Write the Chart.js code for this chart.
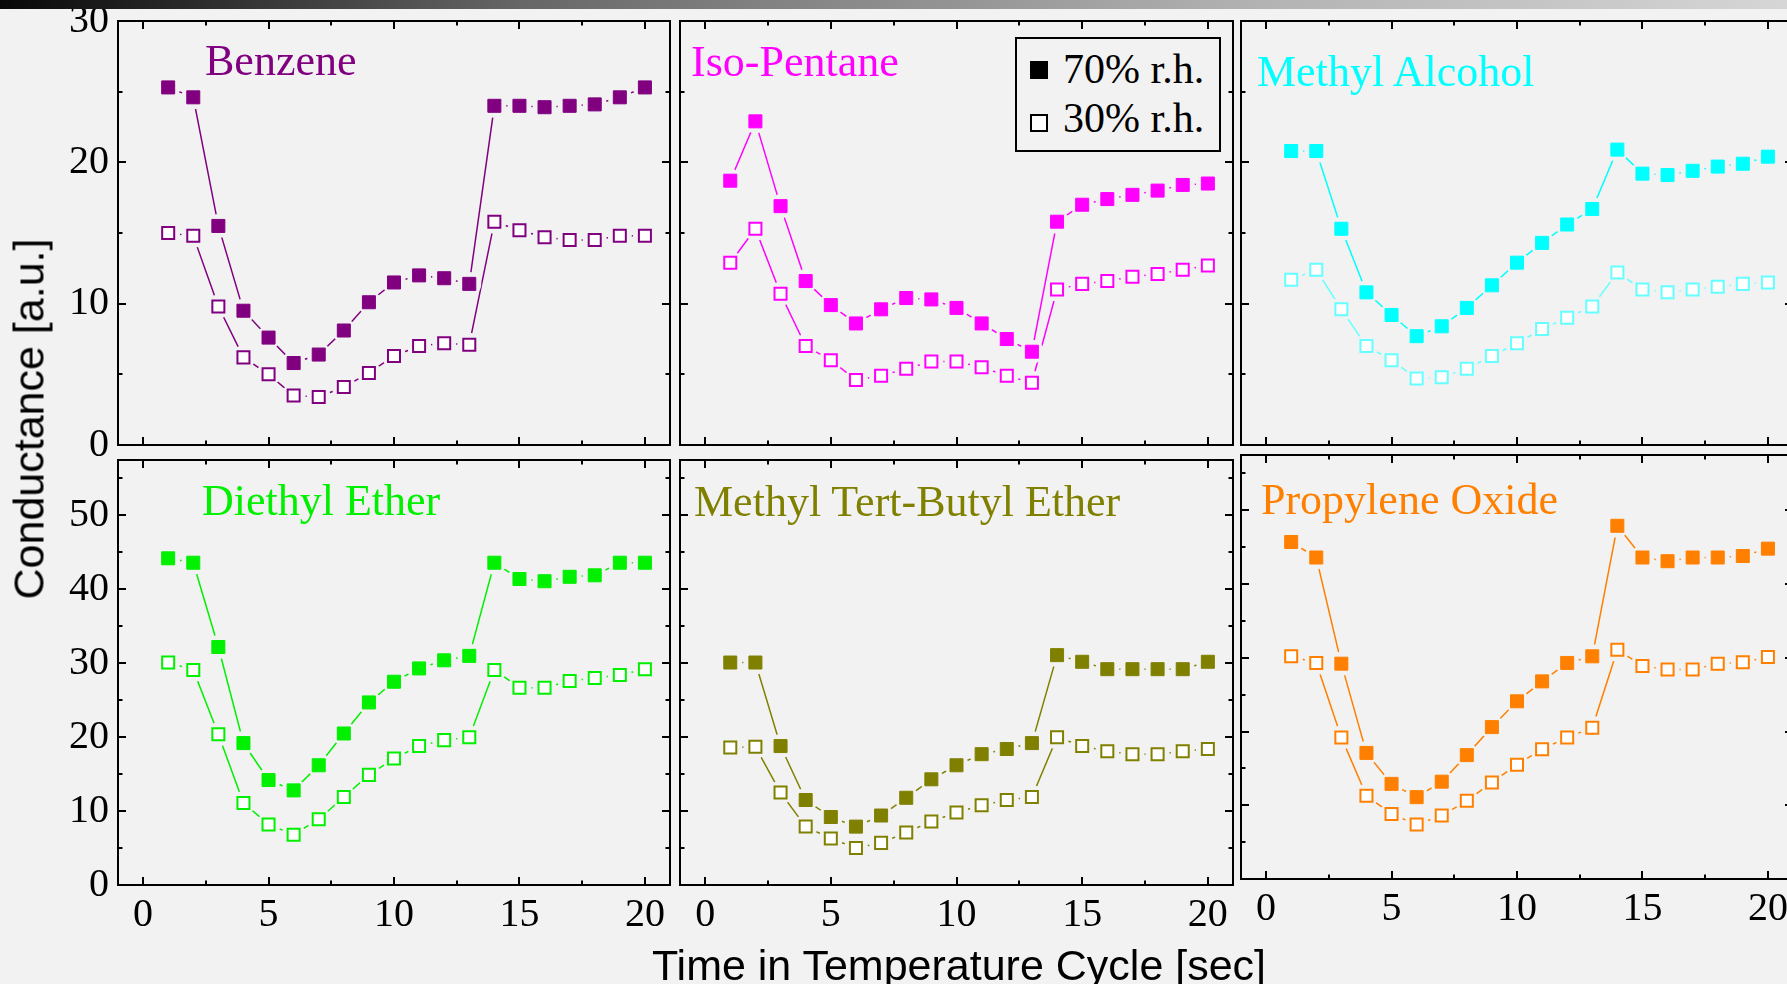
<!DOCTYPE html>
<html>
<head>
<meta charset="utf-8">
<script src="https://cdn.jsdelivr.net/npm/chart.js@4.4.1/dist/chart.umd.min.js"></script>
<style>
html,body{margin:0;padding:0;}
body{width:1787px;height:984px;overflow:hidden;position:relative;background:#f2f2f2;}
#bar{position:absolute;left:0;top:0;width:1787px;height:9px;z-index:20;
 background:linear-gradient(to right,#080808 0%,#666666 29%,#777777 37%,#b2b2b2 70%,#d6d6d6 100%);}
canvas{position:absolute;}
.ptitle{position:absolute;font-family:"Liberation Serif","Times New Roman",serif;font-size:44px;line-height:44px;white-space:nowrap;z-index:5;}
.axtitle{position:absolute;font-family:"Liberation Sans",Arial,sans-serif;font-size:43px;line-height:43px;white-space:nowrap;color:#000;z-index:5;}
#legend{position:absolute;left:1015px;top:37px;width:202px;height:111px;border:2px solid #000;background:#f2f2f2;z-index:6;}
#legend .sw{position:absolute;left:13px;width:18px;height:18px;box-sizing:border-box;}
#legend .lt{position:absolute;left:46px;font-family:"Liberation Serif","Times New Roman",serif;font-size:42px;line-height:42px;white-space:nowrap;color:#000;}
</style>
</head>
<body>
<div id="bar"></div>
<div id="stage"></div>
<script>
// ---------------- data ----------------
const timeSec = [1,2,3,4,5,6,7,8,9,10,11,12,13,14,15,16,17,18,19,20];
const xTicks = [0,5,10,15,20];
const xMinorTicks = [2.5,7.5,12.5,17.5];
const yTicksTop = [0,10,20,30];
const yMinorTop = [5,15,25];
const yTicksBottom = [0,10,20,30,40,50];
const yMinorBottom = [5,15,25,35,45,55];
const compounds = ['Benzene','Iso-Pentane','Methyl Alcohol','Diethyl Ether','Methyl Tert-Butyl Ether','Propylene Oxide'];
const legendLabels = ['70% r.h.','30% r.h.'];
const xTitle = 'Time in Temperature Cycle [sec]';
const yTitle = 'Conductance [a.u.]';

const benzene70 = [25.3,24.6,15.5,9.5,7.6,5.8,6.4,8.1,10.1,11.5,12.0,11.8,11.4,24.0,24.0,23.9,24.0,24.1,24.6,25.3];
const benzene30 = [15.0,14.8,9.8,6.2,5.0,3.5,3.4,4.1,5.1,6.3,7.0,7.2,7.1,15.8,15.2,14.7,14.5,14.5,14.8,14.8];
const isoPentane70 = [18.7,22.9,16.9,11.6,9.9,8.6,9.6,10.4,10.3,9.7,8.6,7.5,6.6,15.8,17.0,17.4,17.7,18.0,18.4,18.5];
const isoPentane30 = [12.9,15.3,10.7,7.0,6.0,4.6,4.9,5.4,5.9,5.9,5.5,4.9,4.4,11.0,11.4,11.6,11.9,12.1,12.4,12.7];
const methylAlcohol70 = [20.8,20.8,15.3,10.8,9.2,7.7,8.4,9.7,11.3,12.9,14.3,15.6,16.7,20.9,19.2,19.1,19.4,19.7,19.9,20.4];
const methylAlcohol30 = [11.7,12.4,9.6,7.0,6.0,4.7,4.8,5.4,6.3,7.2,8.2,9.0,9.8,12.2,11.0,10.8,11.0,11.2,11.4,11.5];
const diethylEther70 = [44.2,43.6,32.2,19.2,14.2,12.8,16.2,20.5,24.7,27.5,29.3,30.4,31.0,43.6,41.4,41.1,41.7,41.9,43.6,43.6];
const diethylEther30 = [30.1,29.1,20.4,11.1,8.2,6.8,8.9,11.9,14.9,17.1,18.8,19.6,20.0,29.1,26.7,26.7,27.6,28.0,28.4,29.2];
const mtbe70 = [30.1,30.1,18.8,11.5,9.2,7.9,9.4,11.8,14.3,16.2,17.7,18.4,19.2,31.1,30.2,29.2,29.2,29.2,29.2,30.2];
const mtbe30 = [18.6,18.7,12.5,7.9,6.3,5.0,5.7,7.1,8.6,9.8,10.8,11.5,11.9,20.0,18.8,18.1,17.7,17.7,18.1,18.4];
const propyleneOxide70 = [45.7,43.6,29.2,17.1,12.9,11.1,13.2,16.8,20.6,24.1,26.8,29.3,30.2,47.9,43.6,43.1,43.6,43.6,43.8,44.8];
const propyleneOxide30 = [30.2,29.3,19.2,11.3,8.8,7.4,8.6,10.6,13.1,15.5,17.6,19.2,20.5,31.1,28.9,28.4,28.4,29.2,29.4,30.1];

// ---------------- layout / style ----------------
const BG = '#f2f2f2';
const PAD_L = 120, PAD_T = 45, PAD_R = 15, PAD_B = 60;
const panels = [
  {name:compounds[0], s70:benzene70, s30:benzene30, c70:'#800080', c30:'#800080', left:118, top:21, w:552, h:424, ymax:30, row:0, col:0, tx:205, tb:76},
  {name:compounds[1], s70:isoPentane70, s30:isoPentane30, c70:'#ff00ff', c30:'#ff00ff', left:680, top:21, w:553, h:424, ymax:30, row:0, col:1, tx:691, tb:76.5},
  {name:compounds[2], s70:methylAlcohol70, s30:methylAlcohol30, c70:'#00ffff', c30:'#66ffff', left:1241, top:21, w:552, h:424, ymax:30, row:0, col:2, tx:1257, tb:86.7},
  {name:compounds[3], s70:diethylEther70, s30:diethylEther30, c70:'#00f000', c30:'#00f000', left:118, top:460, w:552, h:425, ymax:57.5, row:1, col:0, tx:202, tb:515.7},
  {name:compounds[4], s70:mtbe70, s30:mtbe30, c70:'#808000', c30:'#808000', left:680, top:460, w:553, h:425, ymax:57.5, row:1, col:1, tx:694, tb:517},
  {name:compounds[5], s70:propyleneOxide70, s30:propyleneOxide30, c70:'#ff8000', c30:'#ff8000', left:1241, top:455, w:552, h:424, ymax:57.5, row:1, col:2, tx:1261, tb:514.6}
];

const frameTicks = {
  id:'frameTicks',
  afterDatasetsDraw(chart, args, o){
    const {ctx, chartArea:a, scales:{x, y}} = chart;
    ctx.save();
    ctx.strokeStyle = '#000';
    ctx.lineWidth = 2;
    ctx.beginPath();
    const xt = (v, len) => { const p = Math.round(x.getPixelForValue(v));
      ctx.moveTo(p, a.bottom); ctx.lineTo(p, a.bottom - len);
      ctx.moveTo(p, a.top); ctx.lineTo(p, a.top + len); };
    const yt = (v, len) => { const p = Math.round(y.getPixelForValue(v));
      ctx.moveTo(a.left, p); ctx.lineTo(a.left + len, p);
      ctx.moveTo(a.right, p); ctx.lineTo(a.right - len, p); };
    o.xMajor.forEach(v => xt(v, 8));
    o.xMinor.forEach(v => xt(v, 4.5));
    o.yMajor.forEach(v => yt(v, 8));
    o.yMinor.forEach(v => yt(v, 4.5));
    ctx.stroke();
    ctx.strokeRect(a.left, a.top, a.right - a.left, a.bottom - a.top);
    ctx.restore();
  }
};

const stage = document.getElementById('stage');
const tickFont = {family:'"Liberation Serif", "Times New Roman", serif', size:40};

panels.forEach(p => {
  const cv = document.createElement('canvas');
  const W = p.w + PAD_L + PAD_R, H = p.h + PAD_T + PAD_B;
  cv.width = W; cv.height = H;
  cv.style.width = W + 'px'; cv.style.height = H + 'px';
  cv.style.left = (p.left - PAD_L) + 'px';
  cv.style.top = (p.top - PAD_T) + 'px';
  stage.appendChild(cv);

  const pts = arr => timeSec.map((t, i) => ({x:t, y:arr[i]}));
  const lineDs = (arr, col) => ({data:pts(arr), borderColor:col, borderWidth:1.5, fill:false, tension:0,
    pointStyle:'circle', pointRadius:12, pointBackgroundColor:BG, pointBorderColor:BG, pointBorderWidth:0,
    pointHoverRadius:12, order:2});
  const markDs = (arr, col, filled) => ({data:pts(arr), showLine:false, pointStyle:'rect',
    pointRadius: filled ? 9.2 : 8.5, pointBackgroundColor: filled ? col : '#ffffff',
    pointBorderColor: col, pointBorderWidth: filled ? 1 : 2, pointHoverRadius: filled ? 9.2 : 8.5, order:1});

  const yMajor = p.row === 0 ? yTicksTop : yTicksBottom;
  const yMinor = p.row === 0 ? yMinorTop : yMinorBottom;

  new Chart(cv, {
    type:'line',
    data:{datasets:[
      lineDs(p.s70, p.c70), lineDs(p.s30, p.c30),
      markDs(p.s70, p.c70, true), markDs(p.s30, p.c30, false)
    ]},
    options:{
      responsive:false, animation:false, events:[], devicePixelRatio:1,
      layout:{padding:{top:PAD_T, right:PAD_R, left:0, bottom:0}},
      plugins:{legend:{display:false}, tooltip:{enabled:false},
        frameTicks:{xMajor:xTicks, xMinor:xMinorTicks, yMajor:yMajor, yMinor:yMinor}},
      scales:{
        x:{type:'linear', min:-1, max:21,
          afterBuildTicks: s => { s.ticks = xTicks.map(v => ({value:v})); },
          afterFit: s => { s.height = PAD_B; },
          grid:{display:false, drawTicks:false}, border:{display:false},
          ticks:{display: p.row === 1, font:tickFont, color:'#000', padding:6, maxRotation:0, autoSkip:false}},
        y:{type:'linear', min:0, max:p.ymax,
          afterBuildTicks: s => { s.ticks = yMajor.map(v => ({value:v})); },
          afterFit: s => { s.width = PAD_L; },
          grid:{display:false, drawTicks:false}, border:{display:false},
          ticks:{display: p.col === 0, font:tickFont, color:'#000', padding:9, autoSkip:false}}
      }
    },
    plugins:[frameTicks]
  });

  const t = document.createElement('div');
  t.className = 'ptitle';
  t.textContent = p.name;
  t.style.color = p.c70;
  t.style.left = p.tx + 'px';
  t.style.top = (p.tb - 36.85) + 'px';
  document.body.appendChild(t);
});

// legend
const lg = document.createElement('div');
lg.id = 'legend';
lg.innerHTML =
  '<div class="sw" style="top:22px;background:#000;"></div>' +
  '<div class="lt" style="top:9px;">' + legendLabels[0] + '</div>' +
  '<div class="sw" style="top:75px;background:#fff;border:2px solid #000;"></div>' +
  '<div class="lt" style="top:58px;">' + legendLabels[1] + '</div>';
document.body.appendChild(lg);

// axis titles
const yt = document.createElement('div');
yt.className = 'axtitle';
yt.textContent = yTitle;
yt.style.left = '29px'; yt.style.top = '419px';
yt.style.transform = 'translate(-50%,-50%) rotate(-90deg)';
document.body.appendChild(yt);

const xtl = document.createElement('div');
xtl.className = 'axtitle';
xtl.textContent = xTitle;
xtl.style.left = '959px'; xtl.style.top = '944px';
xtl.style.transform = 'translateX(-50%)';
document.body.appendChild(xtl);
</script>
</body>
</html>
